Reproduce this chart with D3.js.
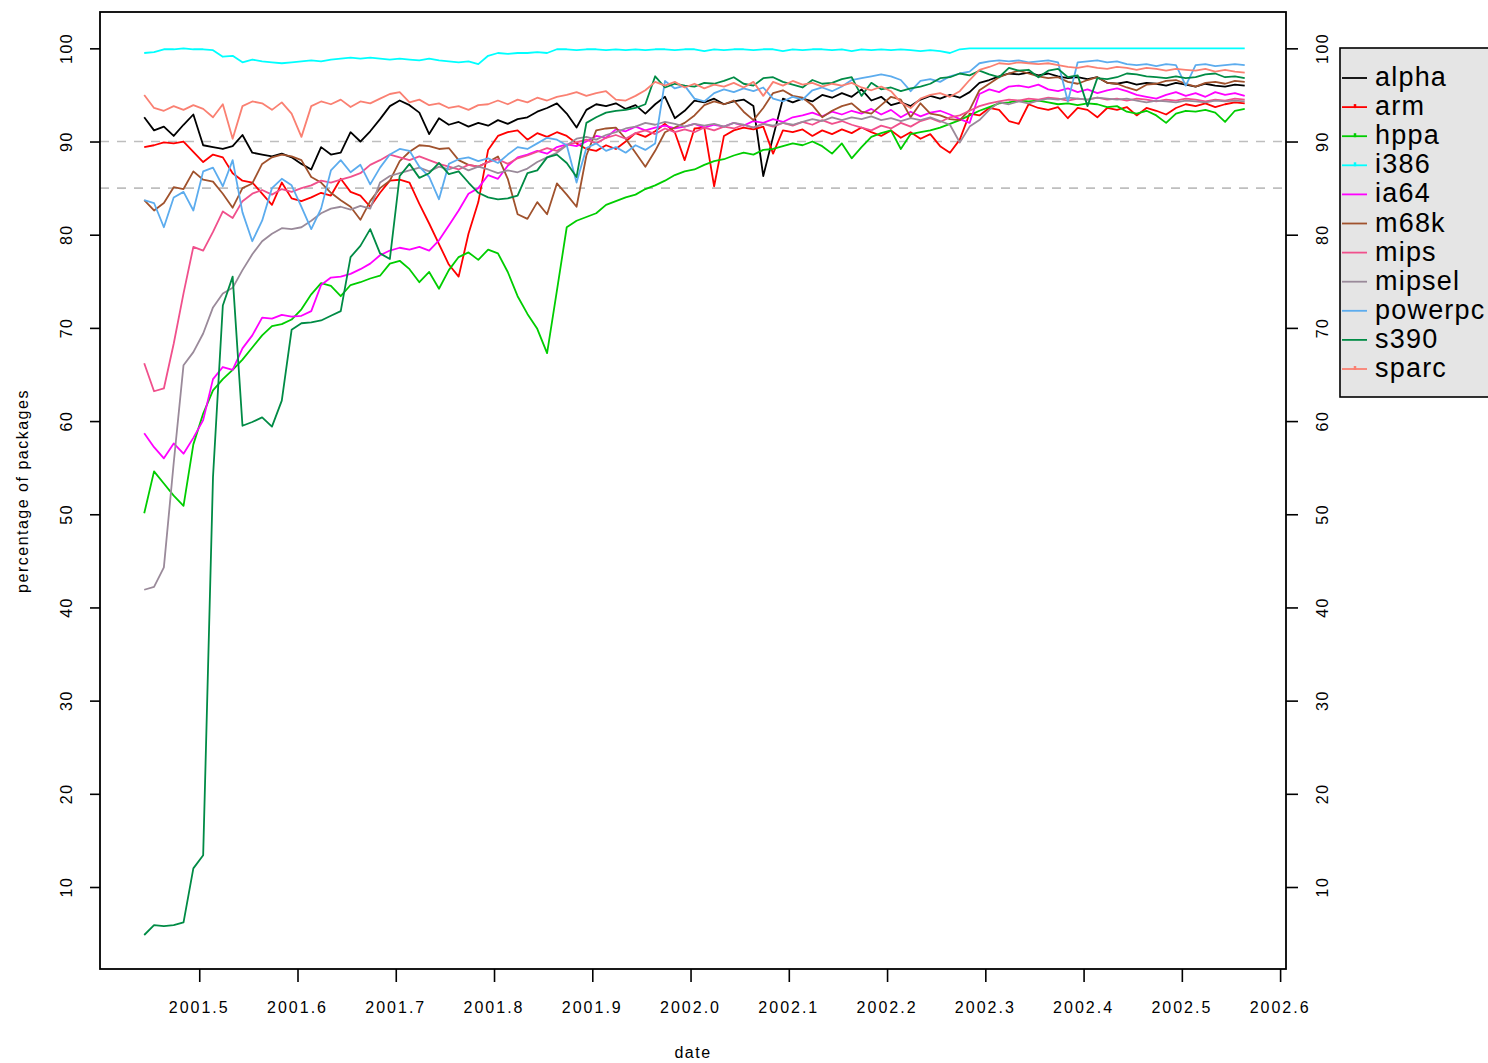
<!DOCTYPE html>
<html>
<head>
<meta charset="utf-8">
<script src="https://cdn.jsdelivr.net/npm/d3@7"></script>
<style>
  body { margin: 0; background: #fff; }
  svg text { font-family: "Liberation Sans", Arial, sans-serif; fill: #000; }
</style>
</head>
<body>
<svg id="chart" width="1488" height="1063"></svg>
<script>
// architectures, in legend / drawing order
const archs = ["alpha", "arm", "hppa", "i386", "ia64", "m68k", "mips", "mipsel", "powerpc", "s390", "sparc"];
const colors = ["#000000", "#ff0000", "#00cd00", "#00ffff", "#ff00ff", "#a0522d", "#f0508c", "#9a8a9a", "#5cacee", "#008b45", "#fa8072"];
const withMark = ["arm", "hppa", "i386", "sparc"];

// sample dates (every 0.01 year)
const dates = d3.range(113).map(i => 2001.444 + i * 0.01);

const xTicks = [2001.5, 2001.6, 2001.7, 2001.8, 2001.9, 2002.0, 2002.1, 2002.2, 2002.3, 2002.4, 2002.5, 2002.6];
const yTicks = [10, 20, 30, 40, 50, 60, 70, 80, 90, 100];
const refLines = [90, 85];

// percentage of packages per architecture
const alpha = [92.6,91.2,91.6,90.6,91.8,92.9,89.6,89.4,89.2,89.5,
  90.7,88.8,88.6,88.4,88.7,88.3,87.6,87.0,89.4,88.6,
  88.8,91.0,90.0,91.1,92.4,93.8,94.4,93.9,93.1,90.8,
  92.5,91.8,92.1,91.6,92.0,91.7,92.3,91.9,92.4,92.6,
  93.2,93.6,94.1,93.0,91.5,93.4,94.0,93.8,94.1,93.5,
  93.9,93.0,94.0,94.8,92.5,93.3,94.4,94.2,94.6,94.0,
  94.3,94.5,93.8,86.3,90.5,94.6,94.2,94.6,94.3,95.0,
  94.7,95.2,94.8,95.6,94.4,94.8,93.9,94.2,93.8,94.5,
  94.9,94.6,95.0,94.7,95.3,96.3,96.6,97.0,97.3,97.2,
  97.4,97.1,97.3,97.0,96.8,96.9,96.7,96.9,96.3,96.2,
  96.4,96.1,96.3,96.2,96.0,96.3,96.1,95.9,96.2,96.0,
  95.9,96.1,96.0];
const arm = [89.4,89.6,89.9,89.8,90.0,88.9,87.8,88.6,88.3,86.6,
  85.8,85.6,84.4,83.2,85.6,83.9,83.6,84.0,84.5,84.2,
  86.0,84.6,84.2,83.0,84.5,85.8,85.9,85.6,83.3,81.2,
  79.0,76.8,75.5,80.1,83.5,89.1,90.6,91.0,91.2,90.2,
  90.9,90.5,91.0,90.6,89.8,89.2,89.0,89.6,89.2,90.0,
  90.9,90.5,91.1,91.9,91.0,88.0,91.4,91.5,85.2,90.6,
  91.2,91.5,91.3,91.6,88.7,91.2,91.0,91.3,90.6,91.2,
  90.8,91.3,90.9,91.5,91.0,90.6,91.2,90.4,91.0,90.3,
  90.8,89.5,88.8,90.2,93.0,92.8,93.6,93.4,92.2,91.9,
  94.0,93.6,93.4,93.7,92.5,93.6,93.4,92.6,93.6,93.4,
  93.7,92.8,93.6,93.3,92.9,93.6,94.0,93.8,94.1,93.7,
  94.0,94.2,94.1];
const hppa = [50.1,54.6,53.3,52.0,50.9,57.5,60.8,63.3,64.5,65.5,
  66.6,67.9,69.2,70.2,70.4,70.9,72.0,73.6,74.8,74.5,
  73.4,74.6,74.9,75.3,75.6,76.9,77.2,76.3,74.9,76.0,
  74.2,76.2,77.6,78.1,77.3,78.4,78.0,76.0,73.4,71.5,
  69.9,67.3,74.0,80.8,81.5,81.9,82.3,83.2,83.6,84.0,
  84.3,84.9,85.3,85.8,86.4,86.8,87.0,87.5,87.9,88.1,
  88.5,88.8,88.6,89.1,89.2,89.5,89.8,89.6,90.0,89.5,
  88.7,89.8,88.2,89.4,90.5,90.9,91.2,89.2,90.8,91.0,
  91.2,91.5,91.9,92.3,92.8,93.3,93.7,94.1,94.2,94.4,
  94.3,94.4,94.2,94.0,94.1,93.9,94.1,94.0,93.7,93.8,
  93.2,93.0,93.3,92.8,92.0,93.0,93.3,93.2,93.4,93.1,
  92.1,93.3,93.5];
const i386 = [99.5,99.6,99.9,99.9,100,99.9,99.9,99.8,99.1,99.2,
  98.5,98.8,98.6,98.5,98.4,98.5,98.6,98.7,98.6,98.8,
  98.9,99.0,98.9,99.0,98.9,98.8,98.9,98.8,98.7,98.9,
  98.7,98.6,98.5,98.6,98.3,99.2,99.5,99.4,99.5,99.5,
  99.6,99.5,99.9,99.9,99.8,99.9,99.9,99.8,99.9,99.8,
  99.9,99.8,99.9,99.9,99.8,99.9,99.9,99.7,99.9,99.8,
  99.9,99.9,99.8,99.9,99.9,99.7,99.9,99.8,99.9,99.9,
  99.8,99.9,99.7,99.9,99.8,99.9,99.8,99.9,99.8,99.7,
  99.8,99.7,99.5,99.9,100,100,100,100,100,100,
  100,100,100,100,100,100,100,100,100,100,
  100,100,100,100,100,100,100,100,100,100,
  100,100,100];
const ia64 = [58.7,57.2,56.0,57.6,56.5,58.2,60.1,64.5,65.8,65.5,
  67.8,69.2,71.1,71.0,71.4,71.2,71.3,71.8,74.6,75.4,
  75.5,75.8,76.3,76.9,77.8,78.3,78.6,78.4,78.7,78.3,
  79.4,81.0,82.6,84.4,85.0,86.4,86.0,87.4,88.3,88.6,
  89.0,88.7,89.4,89.7,89.5,90.0,90.6,90.4,91.3,91.1,
  91.6,91.2,91.5,91.7,91.4,91.6,91.9,91.5,91.8,91.6,
  92.0,91.7,92.2,92.0,92.4,92.1,92.6,92.8,93.1,92.7,
  93.2,92.9,93.3,93.0,93.5,92.9,93.4,92.6,93.2,92.7,
  93.1,93.3,92.9,92.4,92.0,95.1,95.6,95.3,95.9,96.0,
  95.8,96.1,95.6,95.4,95.7,95.3,95.6,95.2,95.5,95.7,
  95.4,95.0,94.8,94.6,95.0,95.3,94.9,95.2,94.8,95.3,
  95.0,95.2,94.9];
const m68k = [83.7,82.6,83.4,85.1,84.9,86.8,85.9,85.7,84.4,82.9,
  85.0,85.5,87.6,88.3,88.6,88.4,88.0,86.2,85.6,84.5,
  83.7,83.0,81.6,83.6,85.0,85.8,87.9,88.9,89.6,89.5,
  89.2,89.3,88.0,87.5,87.3,87.8,88.4,86.0,82.2,81.7,
  83.5,82.2,85.5,84.3,83.0,88.5,91.2,91.4,91.5,90.3,
  88.8,87.3,89.0,91.0,91.5,92.0,92.8,93.9,94.3,94.0,
  94.4,93.2,92.3,93.6,95.2,95.5,94.9,94.7,93.9,92.6,
  93.3,93.8,94.1,93.2,93.0,93.9,94.8,94.5,92.6,94.1,
  93.0,92.8,92.4,92.3,93.4,95.5,96.2,96.9,97.3,97.6,
  97.3,97.0,96.8,96.9,96.4,96.2,96.6,96.9,96.3,96.2,
  95.8,95.5,96.1,96.2,96.5,96.6,96.2,95.9,96.3,96.4,
  96.2,96.5,96.4];
const mips = [66.2,63.2,63.5,68.3,73.7,78.7,78.3,80.3,82.5,81.8,
  83.6,84.4,84.8,84.3,84.9,84.6,85.0,85.3,85.8,85.6,
  85.9,86.2,86.6,87.5,88.0,88.6,88.3,88.0,88.4,88.0,
  87.6,87.3,87.0,87.5,87.3,87.8,88.1,87.6,88.2,88.5,
  88.9,89.3,89.0,89.6,89.9,90.2,89.8,90.4,90.7,90.3,
  90.9,91.2,90.8,91.4,91.0,91.3,91.0,91.5,91.2,91.6,
  91.4,91.8,91.5,91.9,91.6,92.0,91.7,92.1,91.8,92.3,
  91.9,92.2,91.8,91.5,91.2,91.7,91.4,92.0,91.6,92.2,
  92.5,92.1,92.6,92.8,93.3,93.8,94.1,94.3,94.5,94.4,
  94.6,94.5,94.7,94.6,94.4,94.6,94.5,94.7,94.5,94.6,
  94.4,94.6,94.5,94.3,94.5,94.4,94.6,94.5,94.3,94.5,
  94.4,94.6,94.5];
const mipsel = [41.9,42.2,44.3,55.5,66.0,67.4,69.4,72.2,73.7,74.3,
  76.2,77.9,79.3,80.1,80.7,80.6,80.8,81.5,82.3,82.8,
  83.0,82.7,83.1,82.8,85.6,86.3,86.6,86.9,87.2,86.8,
  87.3,87.0,87.4,86.9,87.3,87.0,86.6,86.9,86.7,87.1,
  87.8,88.3,88.8,89.6,90.3,90.5,90.2,90.7,91.0,91.4,
  91.6,92.0,91.8,92.1,91.9,91.6,91.9,91.7,91.9,91.6,
  92.0,91.8,91.5,91.9,91.7,92.0,91.8,92.1,92.4,92.2,
  92.6,92.3,92.6,92.4,92.7,92.3,92.5,92.2,92.5,92.3,
  92.6,92.2,91.8,89.9,91.6,92.3,93.4,94.2,94.0,94.3,
  94.1,94.4,94.6,94.5,94.7,94.6,94.5,94.7,94.6,94.5,
  94.6,94.4,94.2,94.4,94.3,94.2,94.4,94.3,94.2,94.4,
  94.3,94.4,94.3];
const powerpc = [83.7,83.4,80.8,84.0,84.6,82.6,86.8,87.2,85.2,88.0,
  82.4,79.3,81.5,85.0,86.0,85.3,83.0,80.6,82.8,86.9,
  88.0,86.7,87.5,85.4,87.2,88.6,89.2,89.0,87.3,86.2,
  83.8,87.6,88.1,88.3,87.9,88.2,87.7,88.6,89.4,89.2,
  89.8,90.4,90.2,89.6,85.6,89.3,89.8,89.0,89.4,88.8,
  89.6,89.1,89.8,96.5,95.7,96.0,94.6,94.3,95.2,95.6,
  95.3,95.7,95.4,95.8,94.6,94.3,94.8,94.5,95.5,95.8,
  95.4,95.9,96.6,96.8,97.0,97.2,97.0,96.6,95.4,96.5,
  96.7,96.4,97.0,97.3,97.5,98.4,98.6,98.7,98.6,98.7,
  98.5,98.6,98.7,98.5,94.3,98.5,98.6,98.7,98.5,98.6,
  98.3,98.2,98.3,98.1,98.3,98.2,96.0,98.2,98.3,98.1,
  98.2,98.3,98.2];
const s390 = [4.85,5.9,5.8,5.9,6.2,12.0,13.4,54.0,72.4,75.5,
  59.5,59.9,60.4,59.4,62.2,69.8,70.5,70.6,70.8,71.3,
  71.8,77.6,78.8,80.6,78.0,77.4,86.3,87.6,86.1,86.6,
  87.7,86.5,86.8,85.6,84.5,84.0,83.8,83.9,84.2,86.6,
  86.9,88.3,88.6,87.7,86.2,92.0,92.6,93.1,93.3,93.4,
  93.6,94.0,97.0,95.8,96.2,96.0,95.9,96.3,96.2,96.5,
  96.9,96.2,96.0,96.8,96.9,96.4,96.1,95.8,96.6,96.2,
  96.3,96.7,96.9,94.9,96.3,95.6,95.8,95.4,95.7,95.9,
  96.2,96.8,96.9,97.3,97.1,97.6,97.2,96.9,97.9,97.6,
  97.7,96.9,97.6,97.8,96.9,97.1,93.8,96.8,96.7,96.9,
  97.3,97.2,97.0,96.9,96.8,97.0,96.8,96.9,97.2,97.3,
  96.9,97.0,96.8];
const sparc = [95.0,93.6,93.3,93.8,93.4,93.9,93.5,92.6,94.0,90.3,
  93.8,94.3,94.1,93.4,94.2,93.0,90.5,93.8,94.3,94.0,
  94.5,93.7,94.3,94.1,94.6,95.1,95.3,94.2,94.5,93.9,
  94.1,93.6,93.8,93.4,93.9,94.0,94.4,94.0,94.5,94.2,
  94.7,94.4,94.8,95.0,95.3,94.9,95.2,95.4,94.5,94.4,
  94.9,95.5,96.4,96.0,96.4,95.8,96.2,95.7,96.1,95.9,
  96.3,95.8,96.4,94.9,96.4,96.0,96.5,96.1,96.3,95.9,
  96.2,96.0,96.3,95.8,95.5,95.9,95.4,94.2,93.6,94.6,
  95.0,95.2,94.8,95.4,96.6,97.7,98.0,98.4,98.3,98.5,
  98.4,98.3,98.4,98.2,98.0,97.9,98.1,97.9,97.8,98.0,
  97.9,97.7,97.9,97.8,97.6,97.8,97.7,97.6,97.8,97.5,
  97.7,97.5,97.4];

const seriesValues = [alpha, arm, hppa, i386, ia64, m68k, mips, mipsel, powerpc, s390, sparc];

const svg = d3.select("#chart");
const plotLeft = 100, plotRight = 1286, plotTop = 12, plotBottom = 969;

// R style: data range padded by 4% on each side
const x = d3.scaleLinear().domain([2001.399, 2002.606]).range([plotLeft, plotRight]);
const y = d3.scaleLinear().domain([1.2, 103.9]).range([plotBottom, plotTop]);

svg.append("defs").append("clipPath").attr("id", "plotArea")
  .append("rect").attr("x", plotLeft).attr("y", plotTop)
  .attr("width", plotRight - plotLeft).attr("height", plotBottom - plotTop);

// dashed reference lines
svg.selectAll(".ref")
  .data(refLines)
  .join("line")
  .attr("class", "ref")
  .attr("x1", plotLeft).attr("x2", plotRight)
  .attr("y1", d => y(d)).attr("y2", d => y(d))
  .attr("stroke", "#bebebe")
  .attr("stroke-width", 1.6)
  .attr("stroke-dasharray", "9,8");

// one line per architecture
const line = d3.line()
  .x((d, i) => x(dates[i]))
  .y(d => y(d));

svg.append("g").attr("clip-path", "url(#plotArea)")
  .selectAll("path")
  .data(seriesValues)
  .join("path")
  .attr("fill", "none")
  .attr("stroke", (d, i) => colors[i])
  .attr("stroke-width", 1.8)
  .attr("stroke-linejoin", "round")
  .attr("d", line);

// plot frame
svg.append("rect")
  .attr("x", plotLeft).attr("y", plotTop)
  .attr("width", plotRight - plotLeft).attr("height", plotBottom - plotTop)
  .attr("fill", "none").attr("stroke", "#000").attr("stroke-width", 1.8);

// axes (ticks only, labels are drawn separately)
const styleAxis = g => {
  g.select(".domain").remove();
  g.selectAll(".tick line").attr("stroke", "#000").attr("stroke-width", 1.6);
};

svg.append("g")
  .attr("transform", `translate(0,${plotBottom})`)
  .call(d3.axisBottom(x).tickValues(xTicks).tickSize(13).tickFormat(""))
  .call(styleAxis);

svg.append("g")
  .attr("transform", `translate(${plotLeft},0)`)
  .call(d3.axisLeft(y).tickValues(yTicks).tickSize(10).tickFormat(""))
  .call(styleAxis);

svg.append("g")
  .attr("transform", `translate(${plotRight},0)`)
  .call(d3.axisRight(y).tickValues(yTicks).tickSize(12).tickFormat(""))
  .call(styleAxis);

svg.selectAll(".xlab")
  .data(xTicks)
  .join("text")
  .attr("class", "xlab")
  .attr("x", d => x(d))
  .attr("y", 1013)
  .attr("text-anchor", "middle")
  .attr("font-size", 16)
  .attr("letter-spacing", 2)
  .text(d => d.toFixed(1));

[66, 1322].forEach(cx => {
  svg.append("g").selectAll("text")
    .data(yTicks)
    .join("text")
    .attr("transform", d => `translate(${cx + 6},${y(d)}) rotate(-90)`)
    .attr("text-anchor", "middle")
    .attr("font-size", 16)
    .attr("letter-spacing", 1.5)
    .text(d => d);
});

// axis titles
svg.append("text")
  .attr("x", 693).attr("y", 1058)
  .attr("text-anchor", "middle")
  .attr("font-size", 16)
  .attr("letter-spacing", 1.5)
  .text("date");

svg.append("text")
  .attr("transform", "translate(28,491) rotate(-90)")
  .attr("text-anchor", "middle")
  .attr("font-size", 16)
  .attr("letter-spacing", 1.5)
  .text("percentage of packages");

// legend
const legend = svg.append("g");
legend.append("rect")
  .attr("x", 1340).attr("y", 48)
  .attr("width", 200).attr("height", 349)
  .attr("fill", "#e5e5e5").attr("stroke", "#000").attr("stroke-width", 1.6);

const item = legend.selectAll(".item")
  .data(archs)
  .join("g")
  .attr("class", "item")
  .attr("transform", (d, i) => `translate(0,${78 + i * 29.1})`);

item.append("line")
  .attr("x1", 1342).attr("x2", 1367)
  .attr("stroke", (d, i) => colors[i])
  .attr("stroke-width", 1.8);

item.filter(d => withMark.includes(d))
  .append("line")
  .attr("x1", 1355).attr("x2", 1355)
  .attr("y1", -3).attr("y2", 1)
  .attr("stroke", d => colors[archs.indexOf(d)])
  .attr("stroke-width", 2.5);

item.append("text")
  .attr("x", 1375).attr("y", 8)
  .attr("font-size", 27)
  .attr("letter-spacing", 1.2)
  .text(d => d);
</script>
</body>
</html>
